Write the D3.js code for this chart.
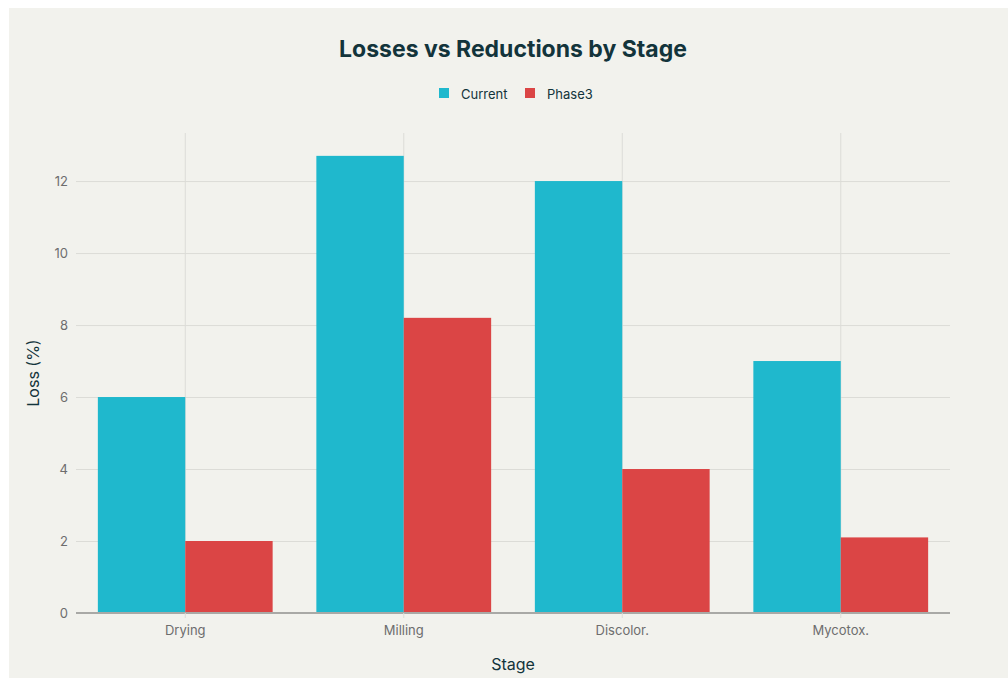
<!DOCTYPE html>
<html><head><meta charset="utf-8">
<script src="https://cdn.jsdelivr.net/npm/d3@7"></script>
<style>
html,body{margin:0;padding:0;background:#ffffff;}
svg{display:block;}
text{font-family:Inter,"Noto Sans",sans-serif;}
</style></head>
<body>
<svg id="chart" width="1008" height="679"></svg>
<script>
const categories = ["Drying", "Milling", "Discolor.", "Mycotox."];
const seriesNames = ["Current", "Phase3"];
const currentValues = [6, 12.7, 12, 7];
const phase3Values = [2, 8.2, 4, 2.1];
const yTicks = [0, 2, 4, 6, 8, 10, 12];
const colors = ["#1FB8CD", "#DB4545"];

const svg = d3.select("#chart");
const W = 1008, H = 679;
svg.append("rect").attr("x", 9).attr("y", 8).attr("width", W - 9).attr("height", 670).attr("fill", "#f2f2ed");

const m = {left: 76, right: 950, top: 133, bottom: 613};
const x = d3.scaleBand().domain(categories).range([m.left, m.right]).paddingInner(0.2).paddingOuter(0.1);
const ymax = d3.max(currentValues.concat(phase3Values)) * 1.05;
const y = d3.scaleLinear().domain([0, ymax]).range([m.bottom, m.top]);
const xs = d3.scaleBand().domain(seriesNames).range([0, x.bandwidth()]);

// vertical gridlines at category centers
svg.append("g").selectAll("line").data(categories).join("line")
  .attr("x1", d => x(d) + x.bandwidth() / 2).attr("x2", d => x(d) + x.bandwidth() / 2)
  .attr("y1", m.top).attr("y2", m.bottom)
  .attr("stroke", "#dcdcd7").attr("stroke-width", 1);

// y axis gridlines + labels
const yAxis = d3.axisLeft(y).tickValues(yTicks).tickSize(-(m.right - m.left)).tickPadding(8).tickFormat(d3.format("d"));
const gy = svg.append("g").attr("transform", `translate(${m.left},0)`).call(yAxis);
gy.select(".domain").remove();
gy.selectAll(".tick line").attr("stroke", d => d === 0 ? "none" : "#dcdcd7").attr("stroke-width", 1);
gy.selectAll(".tick text").attr("fill", "#6d6d6d").attr("font-size", 13).attr("x", -8);

// bars
const series = [currentValues, phase3Values];
series.forEach((vals, si) => {
  svg.append("g").selectAll("rect").data(categories).join("rect")
    .attr("x", (c) => x(c) + xs(seriesNames[si]))
    .attr("width", xs.bandwidth())
    .attr("y", (c, i) => y(vals[i]))
    .attr("height", (c, i) => y(0) - y(vals[i]))
    .attr("fill", colors[si]);
});

// zero line
svg.append("line").attr("x1", m.left).attr("x2", m.right).attr("y1", y(0)).attr("y2", y(0))
  .attr("stroke", "#a9a9a6").attr("stroke-width", 2);

// x axis
const xAxis = d3.axisBottom(x).tickSize(5).tickPadding(8);
const gx = svg.append("g").attr("transform", `translate(0,${m.bottom})`).call(xAxis);
gx.select(".domain").remove();
gx.selectAll(".tick line").attr("stroke", "#dcdcd7");
gx.selectAll(".tick text").attr("fill", "#6d6d6d").attr("font-size", 13);

// axis titles
svg.append("text").attr("x", (m.left + m.right) / 2).attr("y", 670).attr("text-anchor", "middle")
  .attr("fill", "#13343B").attr("font-size", 16).text("Stage");
svg.append("text").attr("transform", `translate(39,${(m.top + m.bottom) / 2}) rotate(-90)`).attr("text-anchor", "middle")
  .attr("fill", "#13343B").attr("font-size", 16).text("Loss (%)");

// title
svg.append("text").attr("x", 513).attr("y", 57).attr("text-anchor", "middle")
  .attr("fill", "#13343B").attr("font-size", 23).attr("font-weight", 650).text("Losses vs Reductions by Stage");

// legend
const legendX = [439, 525];
const lg = svg.append("g");
seriesNames.forEach((s, i) => {
  lg.append("rect").attr("x", legendX[i]).attr("y", 88).attr("width", 10).attr("height", 10).attr("fill", colors[i]);
  lg.append("text").attr("x", legendX[i] + 22).attr("y", 99).attr("fill", "#13343B").attr("font-size", 13).text(s);
});
</script>
</body></html>
